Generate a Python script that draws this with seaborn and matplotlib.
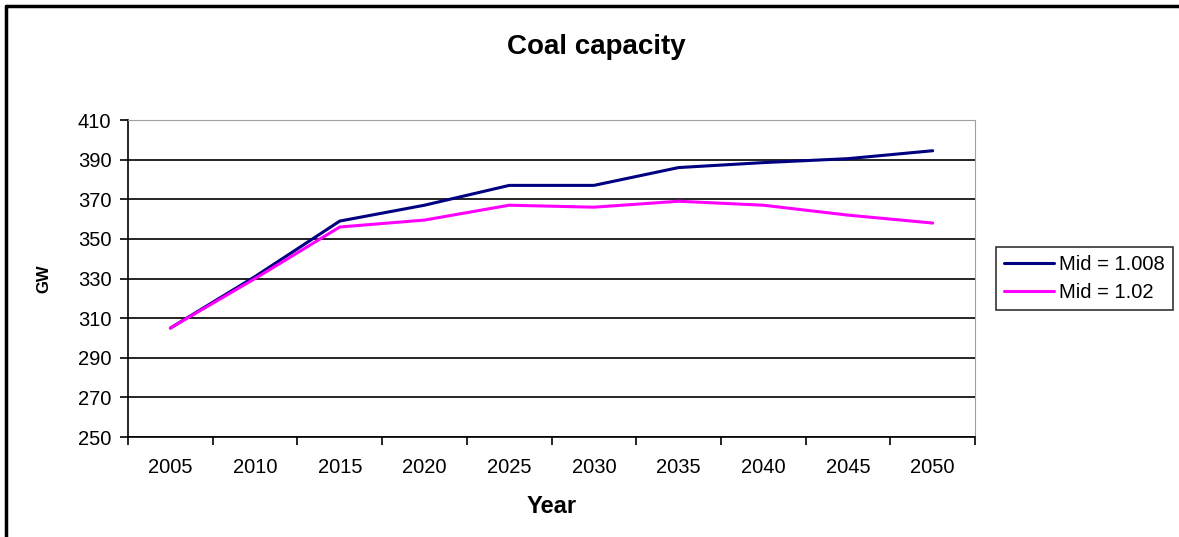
import pandas as pd
import numpy as np
import matplotlib.pyplot as plt
import seaborn as sns
from matplotlib.lines import Line2D

years = ['2005', '2010', '2015', '2020', '2025', '2030', '2035', '2040', '2045', '2050']
mid_1008 = [305, 331, 359, 367, 377, 377, 386, 388.5, 390.5, 394.5]
mid_102 = [305, 330, 356, 359.5, 367, 366, 369, 367, 362, 358]
series_names = ['Mid = 1.008', 'Mid = 1.02']
y_ticks = [250, 270, 290, 310, 330, 350, 370, 390, 410]

df = pd.DataFrame({
    'pos': list(range(len(years))) * 2,
    'GW': mid_1008 + mid_102,
    'Series': [series_names[0]] * len(years) + [series_names[1]] * len(years),
})

sns.set_style('white')
plt.rcParams['font.family'] = ['Liberation Sans', 'DejaVu Sans']
plt.rcParams['text.color'] = 'black'
plt.rcParams['axes.labelcolor'] = 'black'
plt.rcParams['xtick.color'] = 'black'
plt.rcParams['ytick.color'] = 'black'

fig = plt.figure(figsize=(11.79, 5.37), dpi=100)
ax = fig.add_axes([0.1086, 0.1862, 0.7184, 0.5903])

sns.lineplot(data=df, x='pos', y='GW', hue='Series',
             palette={series_names[0]: '#000080', series_names[1]: '#FF00FF'},
             linewidth=2.2, ax=ax, legend=True)

ax.set_xlim(-0.5, len(years) - 0.5)
ax.set_ylim(250, 410)
ax.set_yticks(y_ticks)
ax.set_yticklabels([str(v) for v in y_ticks], fontsize=14.5)
ax.set_xticks(np.arange(-0.5, len(years), 1.0))
ax.set_xticklabels([])
ax.set_xticks(range(len(years)), minor=True)
ax.set_xticklabels(years, minor=True, fontsize=14.5)
ax.tick_params(axis='x', which='minor', length=0, pad=15)
ax.tick_params(axis='both', which='major', direction='out', length=6, width=1.2,
               color='black', bottom=True, left=True, pad=6)
ax.yaxis.grid(True, color='black', linewidth=1.2)
ax.set_axisbelow(True)

for side in ['top', 'right']:
    ax.spines[side].set_color('#a0a0a0')
for side in ['left', 'bottom']:
    ax.spines[side].set_color('black')
    ax.spines[side].set_linewidth(1.2)

ax.set_xlabel('Year', fontsize=17, fontweight='bold', labelpad=13)
ax.set_ylabel('GW', fontsize=12, fontweight='bold', labelpad=19)
fig.text(0.5055, 0.9125, 'Coal capacity', ha='center', va='center', fontsize=20, fontweight='bold')

leg = ax.legend(loc='center left', bbox_to_anchor=(0.8448, 0.482), bbox_transform=fig.transFigure,
                frameon=True, fancybox=False, fontsize=14.5, handlelength=2.5, borderpad=0.4,
                labelspacing=0.45, handletextpad=0.25, borderaxespad=0)
leg.get_frame().set_edgecolor('black')
leg.get_frame().set_linewidth(1.2)

fig.lines.append(Line2D([0.005, 0.005], [0, 0.988], transform=fig.transFigure, color='black', linewidth=2.5))
fig.lines.append(Line2D([0.005, 1.0], [0.988, 0.988], transform=fig.transFigure, color='black', linewidth=2.5))

fig.savefig('out.png', dpi=100)
